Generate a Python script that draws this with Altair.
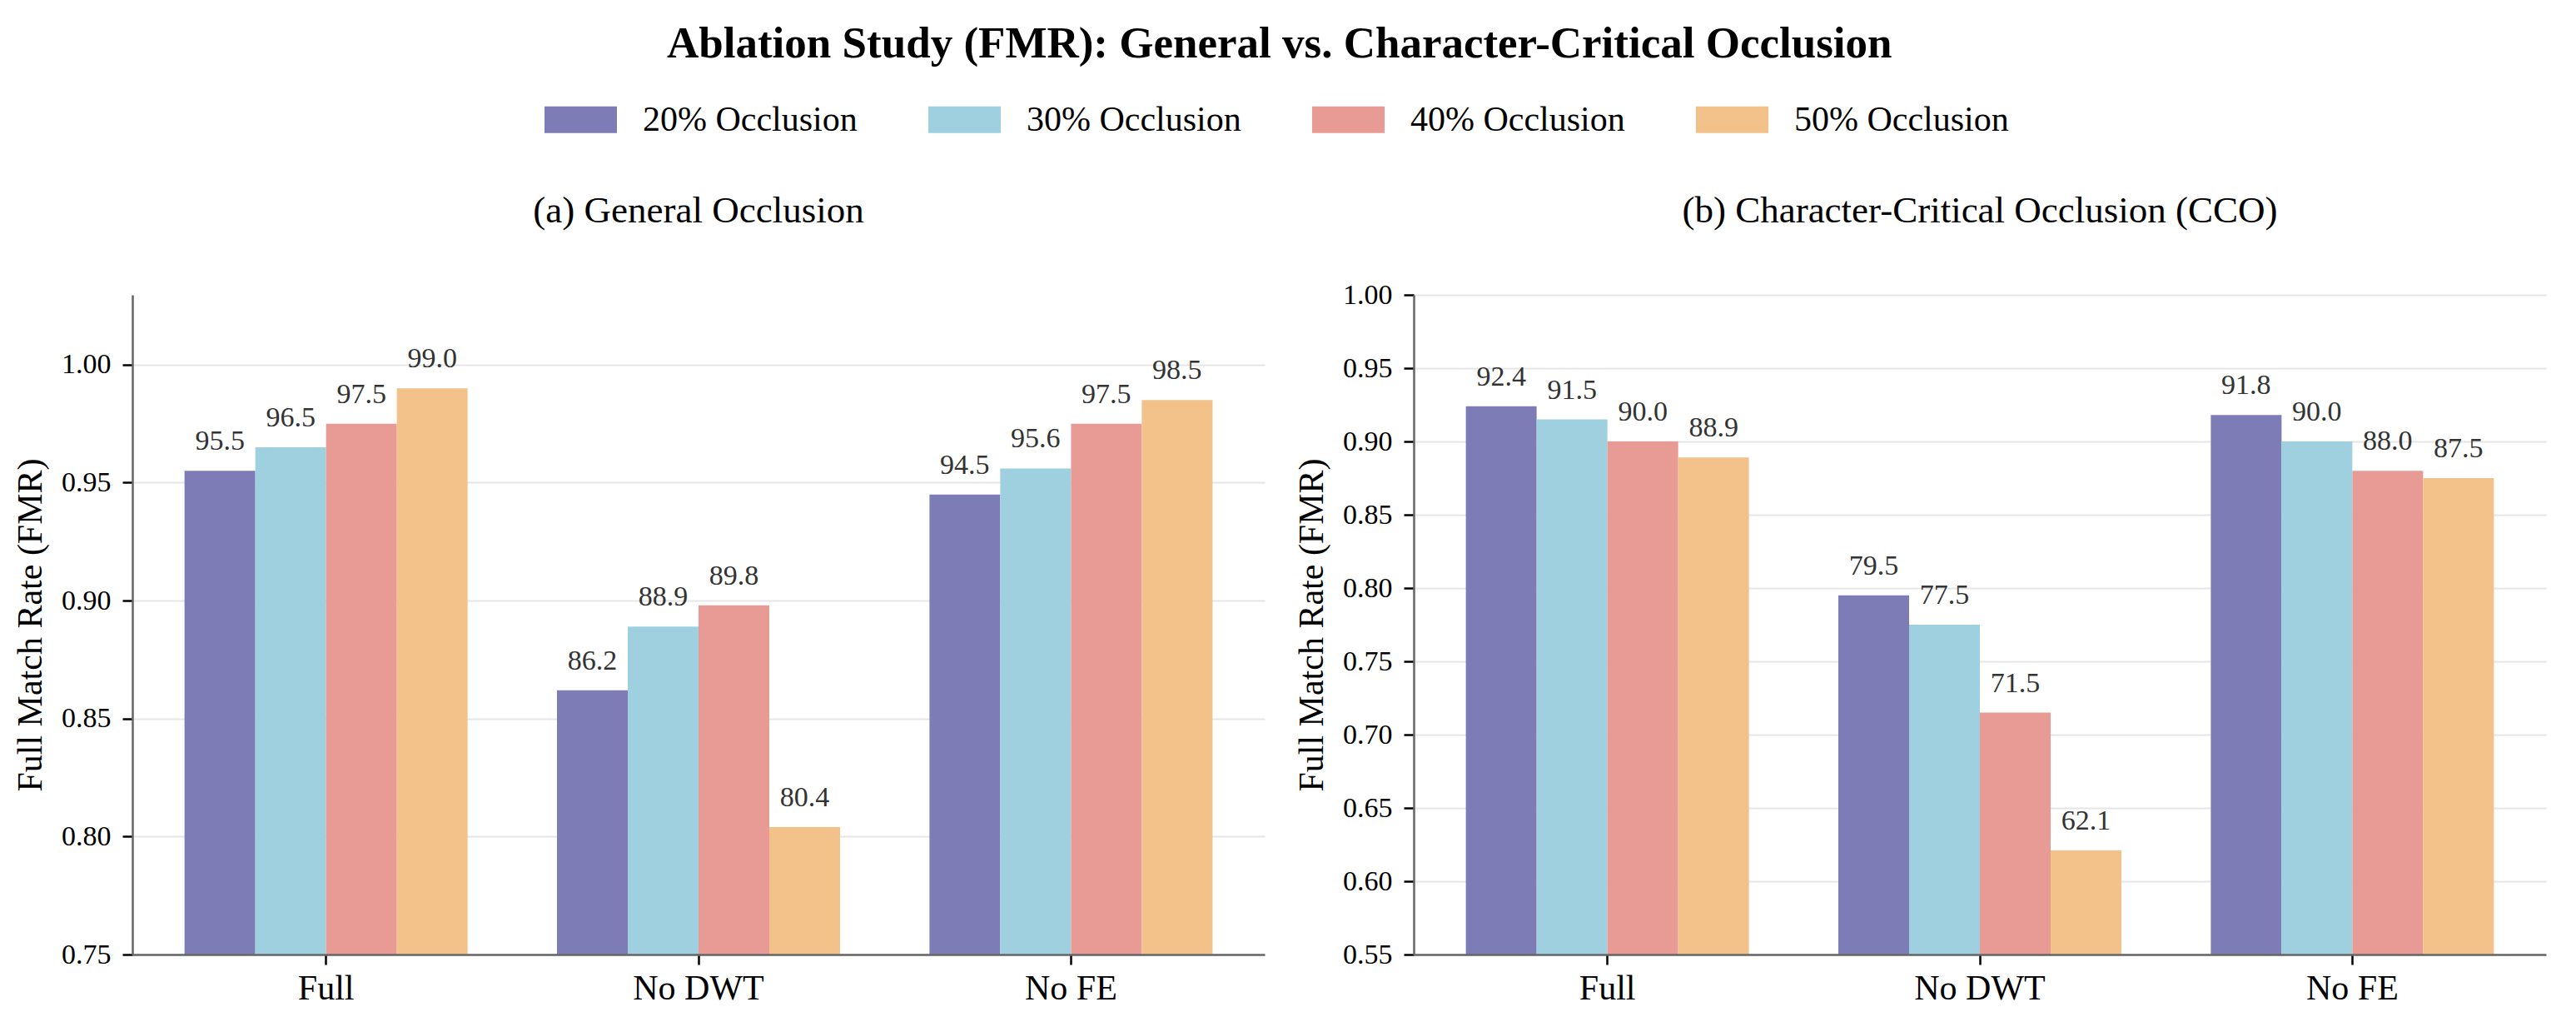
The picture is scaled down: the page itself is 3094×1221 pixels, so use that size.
import pandas as pd
import altair as alt

FONT = "Liberation Serif"

variants = ["Full", "No DWT", "No FE"]
levels = ["20% Occlusion", "30% Occlusion", "40% Occlusion", "50% Occlusion"]
colors = ["#7E7CB7", "#9ED0E0", "#E89B95", "#F2C28A"]

# FMR (%) per variant, one list per occlusion level
general_20 = [95.5, 86.2, 94.5]
general_30 = [96.5, 88.9, 95.6]
general_40 = [97.5, 89.8, 97.5]
general_50 = [99.0, 80.4, 98.5]

cco_20 = [92.4, 79.5, 91.8]
cco_30 = [91.5, 77.5, 90.0]
cco_40 = [90.0, 71.5, 88.0]
cco_50 = [88.9, 62.1, 87.5]

general_ticks = [0.75, 0.80, 0.85, 0.90, 0.95, 1.00]
cco_ticks = [0.55, 0.60, 0.65, 0.70, 0.75, 0.80, 0.85, 0.90, 0.95, 1.00]


def to_frame(series):
    rows = []
    for level, vals in zip(levels, series):
        for variant, v in zip(variants, vals):
            rows.append({"variant": variant, "level": level, "pct": v, "fmr": v / 100})
    return pd.DataFrame(rows)


def make_panel(df, title, domain, ticks, title_offset):
    base = alt.Chart(df).encode(
        x=alt.X("variant:N", sort=variants,
                scale=alt.Scale(paddingInner=0.24, paddingOuter=0.14),
                axis=alt.Axis(title=None, labelAngle=0, labelFontSize=42,
                              labelPadding=8, zindex=1)),
        xOffset=alt.XOffset("level:N", sort=levels,
                            scale=alt.Scale(paddingInner=0, paddingOuter=0)),
        y=alt.Y("fmr:Q",
                scale=alt.Scale(domain=domain, nice=False, zero=False),
                axis=alt.Axis(values=ticks, format=".2f",
                              title="Full Match Rate (FMR)")),
    )
    bars = base.mark_bar(clip=True).encode(
        color=alt.Color("level:N", sort=levels,
                        scale=alt.Scale(domain=levels, range=colors),
                        legend=alt.Legend(
                            title=None, orient="none", direction="horizontal",
                            columns=4, legendX=495, legendY=-254,
                            symbolType="M-1,-0.368L1,-0.368L1,0.368L-1,0.368Z",
                            symbolSize=7569, symbolStrokeWidth=0, symbolOpacity=1,
                            labelFont=FONT, labelFontSize=42, labelColor="#000",
                            labelOffset=31, columnPadding=85, labelLimit=600))
    )
    labels = base.mark_text(dy=-25, baseline="alphabetic", fontSize=34,
                            font=FONT, color="#333").encode(
        text=alt.Text("pct:Q", format=".1f")
    )
    return alt.layer(bars, labels).properties(
        width=1360, height=792,
        title=alt.TitleParams(title, font=FONT, fontSize=45, fontWeight="normal",
                              color="#000", baseline="alphabetic",
                              offset=title_offset, anchor="middle"),
    )


general = to_frame([general_20, general_30, general_40, general_50])
cco = to_frame([cco_20, cco_30, cco_40, cco_50])

# the right panel's top tick label sticks up, so its title needs less offset
left = make_panel(general, "(a) General Occlusion", [0.75, 1.0296], general_ticks, 42)
right = make_panel(cco, "(b) Character-Critical Occlusion (CCO)", [0.55, 1.0], cco_ticks, 25)

chart = alt.hconcat(left, right, spacing=179, bounds="flush").properties(
    title=alt.TitleParams("Ablation Study (FMR): General vs. Character-Critical Occlusion",
                          font=FONT, fontSize=53, fontWeight="bold", color="#000",
                          anchor="middle", offset=20),
    padding={"left": 7, "top": 19, "right": 10, "bottom": 5},
).configure_view(
    stroke=None
).configure_axis(
    labelFont=FONT, titleFont=FONT, labelColor="#000", titleColor="#000",
    domainColor="#666", domainWidth=2.5, tickColor="#000", tickWidth=2.5,
    tickSize=12, gridColor="#e6e6e6", gridWidth=2
).configure_axisX(
    grid=False
).configure_axisY(
    grid=True, labelFontSize=34, titleFontSize=42, titleFontWeight="normal",
    labelPadding=14, titlePadding=15
)

chart.save("out.html", embed_options={"renderer": "svg", "actions": False})
